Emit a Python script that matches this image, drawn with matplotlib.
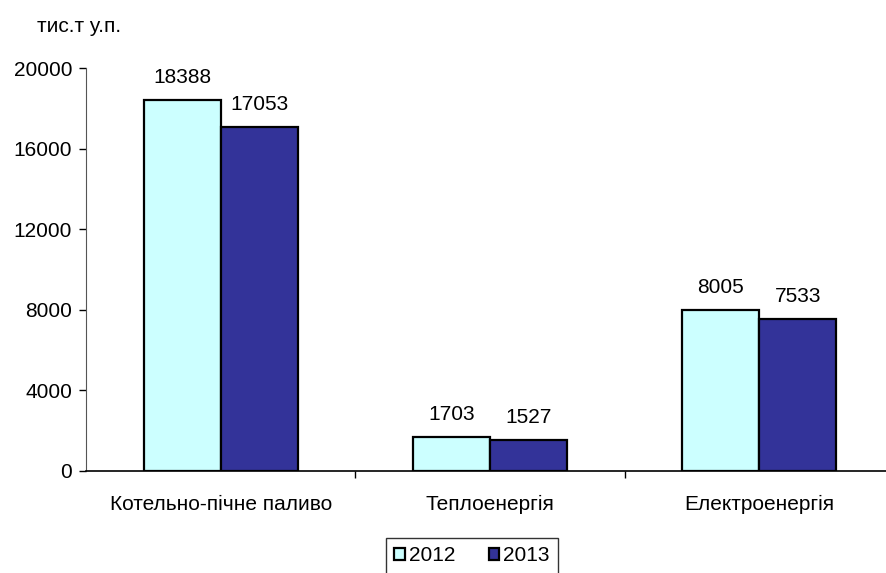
import matplotlib
matplotlib.use("Agg")
import matplotlib.pyplot as plt
import numpy as np

plt.rcParams["font.family"] = ["Liberation Sans", "DejaVu Sans"]

categories = ["Котельно-пічне паливо", "Теплоенергія", "Електроенергія"]
years = ["2012", "2013"]
values_2012 = [18388, 1703, 8005]
values_2013 = [17053, 1527, 7533]
colors = {"2012": "#CCFFFF", "2013": "#333399"}

FS = 15

fig = plt.figure(figsize=(8.86, 5.73), dpi=100)
ax = fig.add_axes([86 / 886, 102 / 573, 808 / 886, 403 / 573])

x = np.arange(len(categories))
w = 0.286
b1 = ax.bar(x - w / 2, values_2012, w, color=colors["2012"], edgecolor="black", linewidth=1.6, label="2012")
b2 = ax.bar(x + w / 2, values_2013, w, color=colors["2013"], edgecolor="black", linewidth=1.6, label="2013")
for bars in (b1, b2):
    for r in bars:
        ax.text(r.get_x() + r.get_width() / 2, r.get_height() + 650, f"{int(r.get_height())}",
                ha="center", va="bottom", fontsize=FS)

ax.set_xlim(-0.5, 2.5)
ax.set_ylim(0, 20000)
ax.set_yticks(np.arange(0, 20001, 4000))
ax.set_xticks([0.5, 1.5])
ax.set_xticklabels([])
ax.set_xticks(x, minor=True)
ax.set_xticklabels(categories, minor=True, fontsize=FS)
ax.tick_params(axis="x", which="minor", length=0, pad=17)
ax.tick_params(axis="x", which="major", direction="out", length=5, width=1)
ax.tick_params(axis="y", direction="out", length=5, width=1, labelsize=FS, pad=5)
for s in ("top", "right"):
    ax.spines[s].set_visible(False)
ax.spines["left"].set_color("#555555")
ax.spines["bottom"].set_linewidth(1.2)

fig.text(37 / 886, 1 - 27 / 573, "тис.т у.п.", ha="left", va="center", fontsize=FS)

leg = fig.legend(handles=[b1, b2], labels=years, loc="upper center",
                 bbox_to_anchor=(472 / 886, 1 - 538 / 573), ncol=2, fontsize=FS,
                 frameon=True, fancybox=False, handlelength=0.5, handleheight=0.5,
                 handletextpad=0.2, columnspacing=1.6, borderpad=0.4, borderaxespad=0)
leg._legend_box.sep = 0
leg.get_frame().set_edgecolor("black")
leg.get_frame().set_linewidth(1.0)

fig.savefig("out.png", dpi=100)
